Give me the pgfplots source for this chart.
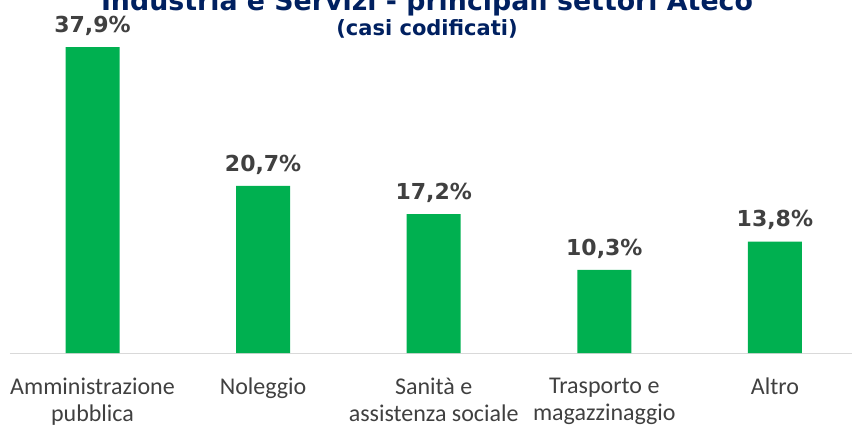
\documentclass[border=0pt]{standalone}
\usepackage{pgfplots}
\pgfplotsset{compat=1.18}
\usepackage{fontspec}
\setmainfont{Carlito}
\newfontfamily\verd{DejaVu Sans}
\definecolor{barg}{HTML}{00B050}
\definecolor{navy}{HTML}{002060}
\definecolor{lab}{HTML}{404040}
\definecolor{cat}{HTML}{404040}
\definecolor{axl}{HTML}{D9D9D9}
\begin{document}
\begin{tikzpicture}[x=1pt,y=1pt]
\useasboundingbox (0,0) rectangle (852,424);
\begin{axis}[
  at={(10pt,71pt)}, anchor=south west,
  scale only axis, width=842pt, height=322.8pt,
  xmin=-0.4836, xmax=4.452, ymin=0, ymax=40,
  axis y line=none, axis x line*=bottom,
  axis line style={axl, line width=1pt},
  x axis line style={-},
  xtick=data, xtick style={draw=none},
  xticklabels={{Amministrazione\\pubblica},{Noleggio},{Sanità e\\assistenza sociale},{Trasporto e\\magazzinaggio},{Altro}},
  xticklabel style={align=center, font=\fontsize{24}{27}\selectfont, text=cat, anchor=north, yshift=-17pt},
  ybar, bar width=54pt,
  nodes near coords={\pgfmathprintnumber[fixed,fixed zerofill,precision=1,use comma,assume math mode=true]{\pgfplotspointmeta}\%},
  nodes near coords style={font=\verd\bfseries\fontsize{22}{25}\selectfont, text=lab, yshift=8pt},
]
\addplot[fill=barg, draw=none] coordinates {(0,37.9) (1,20.7) (2,17.2) (3,10.3) (4,13.8)};
\end{axis}
\node[anchor=base, font=\verd\bfseries\fontsize{26.8}{30}\selectfont, text=navy] at (427,413) {Industria e Servizi - principali settori Ateco};
\node[anchor=base, font=\verd\bfseries\fontsize{21}{24}\selectfont, text=navy] at (427,388) {(casi codificati)};
\end{tikzpicture}
\end{document}
